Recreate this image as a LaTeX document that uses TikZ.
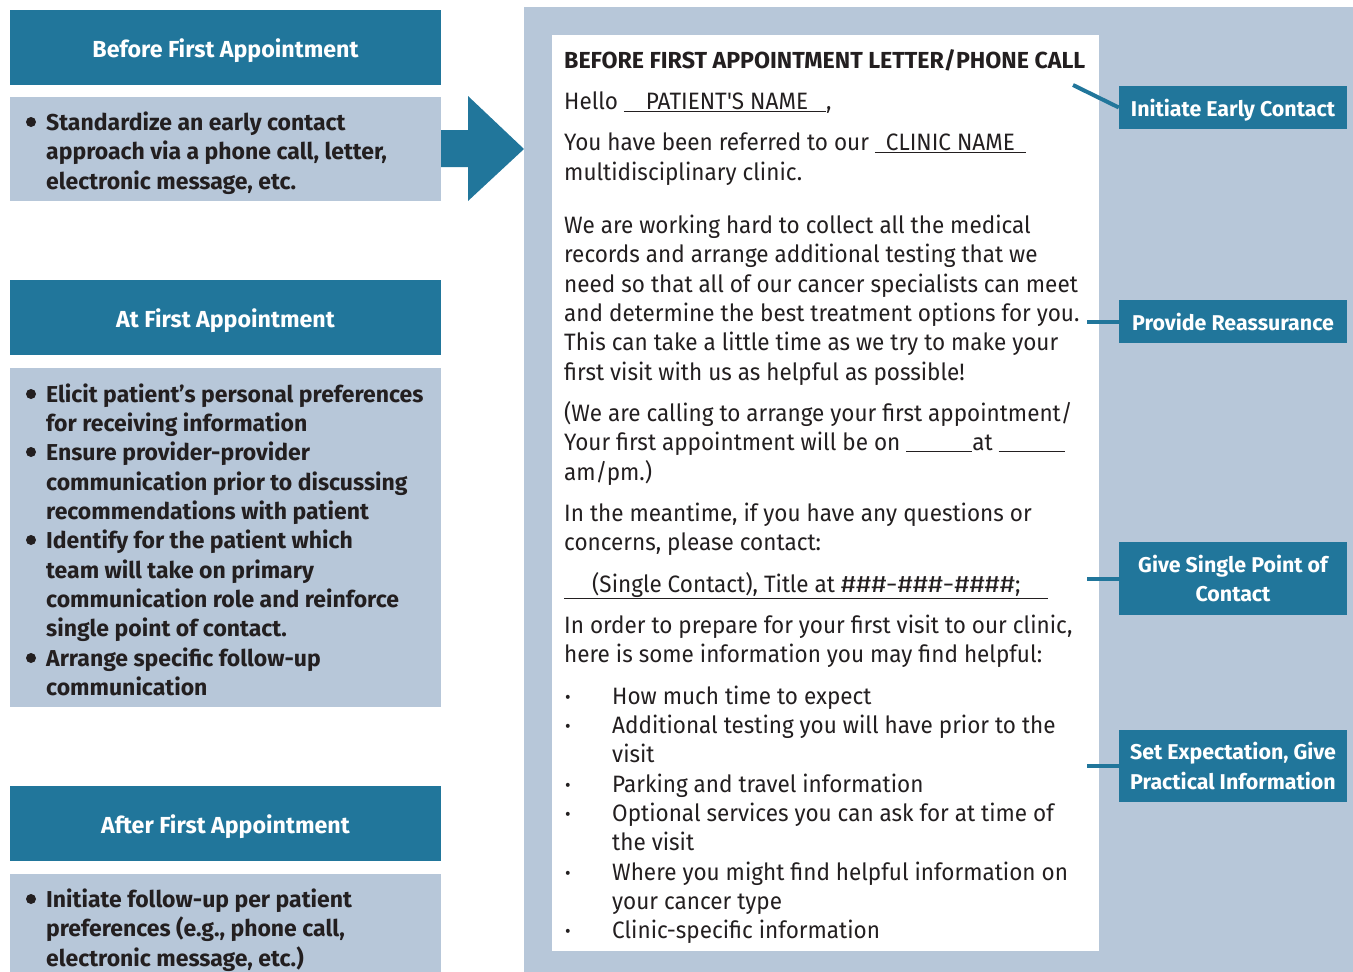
\documentclass[tikz,border=0pt]{standalone}
\usepackage{fontspec}
\setmainfont{Fira Sans}
\newfontfamily\letterfont{Fira Sans}[FakeStretch=0.95]
\definecolor{brandteal}{HTML}{21769B}
\definecolor{panelblue}{HTML}{B7C7D9}
\definecolor{ink}{HTML}{231F20}
\newcommand{\blank}[1]{\underline{\hspace*{#1}}}
\begin{document}
\begin{tikzpicture}[x=1pt,y=-1pt,
  hdr/.style={fill=brandteal,text=white,inner sep=0,minimum width=431,minimum height=75,
    text depth=0pt,text height=19pt,font=\bfseries\fontsize{23.2}{27}\selectfont},
  bodybox/.style={fill=panelblue,inner sep=0,minimum width=431},
  ltxt/.style={anchor=mid west,inner sep=0,yshift=-6pt,text=ink,font=\bfseries\fontsize{23}{27}\selectfont},
  lbul/.style={circle,fill=ink,inner sep=0,minimum size=10},
  btxt/.style={anchor=mid west,inner sep=0,yshift=-5.5pt,text=ink,font=\letterfont\fontsize{23.7}{28}\selectfont},
  bbul/.style={anchor=mid,inner sep=0,yshift=-5pt,text=ink,font=\letterfont\fontsize{18}{20}\selectfont},
  callout/.style={fill=brandteal,text=white,inner sep=0,minimum width=228,align=center,
    text depth=0pt,font=\bfseries\fontsize{21.4}{29.5}\selectfont},
  link/.style={draw=brandteal,line width=4}]
\useasboundingbox (0,0) rectangle (1353,972);

% ---------- left column ----------
\node[hdr] (h1) at (225.5,47.5) {Before First Appointment};
\node[bodybox,minimum height=104] (b1) at (225.5,149) {};
\node[lbul] (b1d1) at (31,122) {};
\node[ltxt] (b1l1) at (46,122) {Standardize an early contact};
\node[ltxt] (b1l2) at (46,151) {approach via a phone call, letter,};
\node[ltxt] (b1l3) at (46,181) {electronic message, etc.};

\node[hdr] (h2) at (225.5,317.5) {At First Appointment};
\node[bodybox,minimum height=339] (b2) at (225.5,537.5) {};
\node[lbul] (b2d1) at (31,394) {};
\node[ltxt] (b2l1) at (46,394) {Elicit patient’s personal preferences};
\node[ltxt] (b2l2) at (46,423) {for receiving information};
\node[lbul] (b2d2) at (31,452) {};
\node[ltxt] (b2l3) at (46,452) {Ensure provider-provider};
\node[ltxt] (b2l4) at (46,482) {communication prior to discussing};
\node[ltxt] (b2l5) at (46,511) {recommendations with patient};
\node[lbul] (b2d3) at (31,540) {};
\node[ltxt] (b2l6) at (46,540) {Identify for the patient which};
\node[ltxt] (b2l7) at (46,570) {team will take on primary};
\node[ltxt] (b2l8) at (46,599) {communication role and reinforce};
\node[ltxt] (b2l9) at (46,628) {single point of contact.};
\node[lbul] (b2d4) at (31,658) {};
\node[ltxt] (b2l10) at (46,658) {Arrange specific follow-up};
\node[ltxt] (b2l11) at (46,687) {communication};

\node[hdr] (h3) at (225.5,823.5) {After First Appointment};
\node[bodybox,minimum height=98] (b3) at (225.5,923) {};
\node[lbul] (b3d1) at (31,899) {};
\node[ltxt] (b3l1) at (46,899) {Initiate follow-up per patient};
\node[ltxt] (b3l2) at (46,928) {preferences (e.g., phone call,};
\node[ltxt] (b3l3) at (46,958) {electronic message, etc.)};

% ---------- arrow into the letter panel ----------
\fill[brandteal] (441,130) -- (468,130) -- (468,96) -- (524,149)
  -- (468,201) -- (468,167) -- (441,167) -- cycle;

% ---------- letter panel ----------
\node[fill=panelblue,inner sep=0,minimum width=829,minimum height=965] (panel) at (938.5,489.5) {};
\node[fill=white,inner sep=0,minimum width=547,minimum height=916] (letter) at (825.5,493) {};

\node[anchor=mid west,inner sep=0,yshift=-6pt,text=ink,font=\bfseries\fontsize{23.2}{27}\selectfont] (t0) at (564,60)
  {BEFORE FIRST APPOINTMENT LETTER/PHONE CALL};
\node[btxt] (t1) at (564,101) {Hello \underline{\hspace*{22pt}PATIENT'S NAME\hspace*{18pt}},};
\node[btxt] (t2) at (564,142) {You have been referred to our \underline{\hspace*{11pt}CLINIC NAME\hspace*{11pt}}};
\node[btxt] (t3) at (564,172) {multidisciplinary clinic.};
\node[btxt] (t4) at (564,225) {We are working hard to collect all the medical};
\node[btxt] (t5) at (564,254) {records and arrange additional testing that we};
\node[btxt] (t6) at (564,284) {need so that all of our cancer specialists can meet};
\node[btxt] (t7) at (564,313) {and determine the best treatment options for you.};
\node[btxt] (t8) at (564,342) {This can take a little time as we try to make your};
\node[btxt] (t9) at (564,372) {first visit with us as helpful as possible!};
\node[btxt] (t10) at (564,413) {(We are calling to arrange your first appointment/};
\node[btxt] (t11) at (564,442) {Your first appointment will be on \blank{66pt}at \blank{66pt}};
\node[btxt] (t12) at (564,472) {am/pm.)};
\node[btxt] (t13) at (564,513) {In the meantime, if you have any questions or};
\node[btxt] (t14) at (564,542) {concerns, please contact:};
\node[btxt] (t15) at (564,584) {\underline{\hspace*{28pt}(Single Contact), Title at \scalebox{1.3}[1]{\#\#\#-\#\#\#-\#\#\#\#};\hspace*{28pt}}};
\node[btxt] (t16) at (564,625) {In order to prepare for your first visit to our clinic,};
\node[btxt] (t17) at (564,654) {here is some information you may find helpful:};
\node[bbul] (d1) at (568,696) {•};
\node[btxt] (t18) at (612,696) {How much time to expect};
\node[bbul] (d2) at (568,725) {•};
\node[btxt] (t19) at (612,725) {Additional testing you will have prior to the};
\node[btxt] (t20) at (612,754) {visit};
\node[bbul] (d3) at (568,784) {•};
\node[btxt] (t21) at (612,784) {Parking and travel information};
\node[bbul] (d4) at (568,813) {•};
\node[btxt] (t22) at (612,813) {Optional services you can ask for at time of};
\node[btxt] (t23) at (612,842) {the visit};
\node[bbul] (d5) at (568,872) {•};
\node[btxt] (t24) at (612,872) {Where you might find helpful information on};
\node[btxt] (t25) at (612,901) {your cancer type};
\node[bbul] (d6) at (568,930) {•};
\node[btxt] (t26) at (612,930) {Clinic-specific information};

% ---------- call-outs ----------
\node[callout,minimum height=43] (c1) at (1233,107.5) {Initiate Early Contact};
\node[callout,minimum height=43] (c2) at (1233,321.5) {Provide Reassurance};
\node[callout,minimum height=73] (c3) at (1233,578.5) {Give Single Point of\\Contact};
\node[callout,minimum height=72] (c4) at (1233,766) {Set Expectation, Give\\Practical Information};

% connectors from the letter lines to their call-outs
\coordinate (p1) at (1073,85);
\coordinate (p2) at (1087,321.5);
\coordinate (p3) at (1087,578.5);
\coordinate (p4) at (1087,766);
\draw[link] (p1) -- (c1.west);
\draw[link] (p2) -- (c2.west);
\draw[link] (p3) -- (c3.west);
\draw[link] (p4) -- (c4.west);
\end{tikzpicture}
\end{document}
